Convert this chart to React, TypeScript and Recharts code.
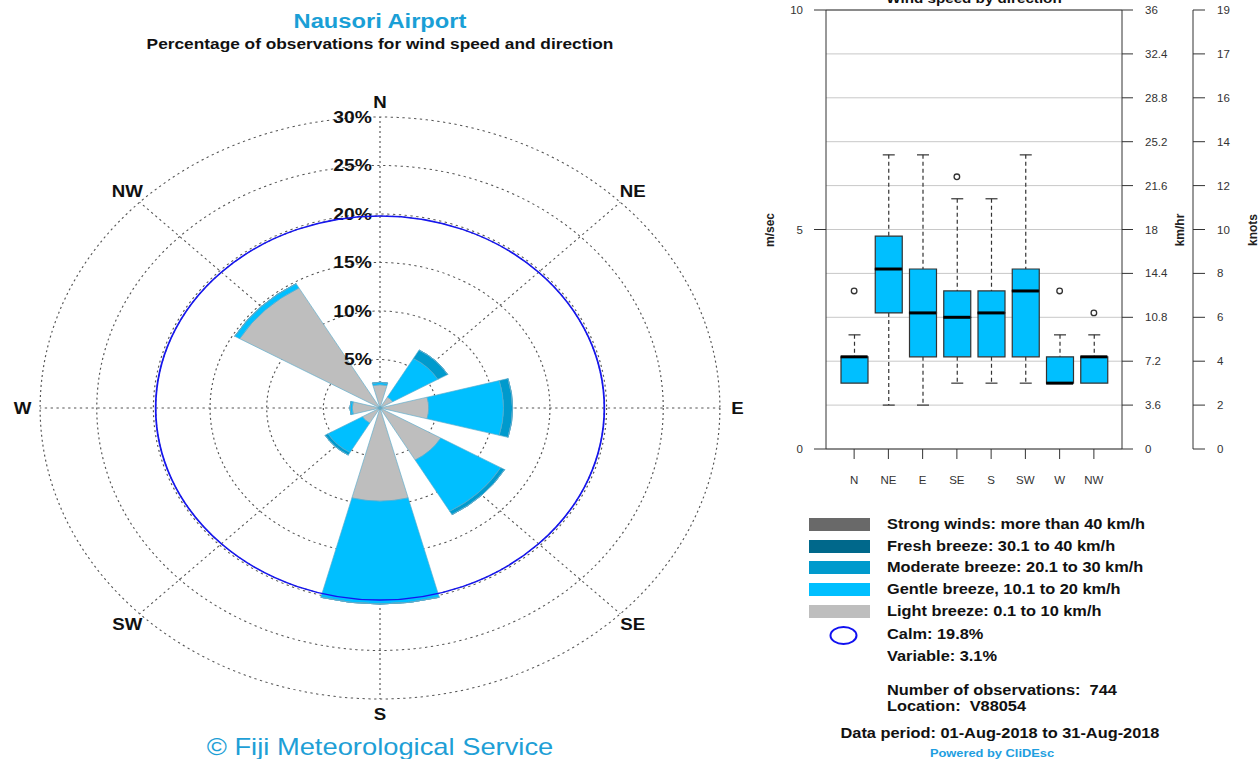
import React from "react";
import {
  RadialBarChart,
  RadialBar,
  PolarGrid,
  PolarAngleAxis,
  PolarRadiusAxis,
  ComposedChart,
  Bar,
  Line,
  Scatter,
  XAxis,
  YAxis,
  CartesianGrid,
  ReferenceLine,
} from "recharts";

const FONT = '"Liberation Sans", Arial, Helvetica, sans-serif';

// wind rose (percent of observations)
const directions = ["N", "NE", "E", "SE", "S", "SW", "W", "NW"];
const dirAngles = [0, 45, 90, 135, 180, 225, 270, 315];
const lightBreeze = [2.4, 1.3, 4.3, 6.2, 9.6, 1.8, 2.45, 14.3];
const gentleBreeze = [0.25, 4.6, 6.6, 6.1, 10.6, 3.5, 0.2, 0.5];
const moderateBreeze = [0, 1.0, 0.8, 0.4, 0, 0.3, 0, 0];
const freshBreeze = [0, 0, 0, 0, 0, 0, 0, 0];
const strongWinds = [0, 0, 0, 0, 0, 0, 0, 0];
const calmPct = 19.8;
const variablePct = 3.1;
const pctTicks = [0, 5, 10, 15, 20, 25, 30];

// wind speed by direction (m/s)
const boxMin = [1.5, 1.0, 1.0, 1.5, 1.5, 1.5, 1.5, 1.5];
const boxQ1 = [1.5, 3.1, 2.1, 2.1, 2.1, 2.1, 1.5, 1.5];
const boxMedian = [2.1, 4.1, 3.1, 3.0, 3.1, 3.6, 1.5, 2.1];
const boxQ3 = [2.1, 4.85, 4.1, 3.6, 3.6, 4.1, 2.1, 2.1];
const boxMax = [2.6, 6.7, 6.7, 5.7, 5.7, 6.7, 2.6, 2.6];
const outliers: (number | null)[] = [3.6, null, null, 6.2, null, null, 3.6, 3.1];
const msTicks = [0, 5, 10];
const speedTicks = [0, 1, 2, 3, 4, 5, 6, 7, 8, 9, 10];

const speedClasses = [
  { key: "strong", label: "Strong winds: more than 40 km/h", color: "#696969", values: strongWinds },
  { key: "fresh", label: "Fresh breeze: 30.1 to 40 km/h", color: "#00688b", values: freshBreeze },
  { key: "moderate", label: "Moderate breeze: 20.1 to 30 km/h", color: "#009acd", values: moderateBreeze },
  { key: "gentle", label: "Gentle breeze, 10.1 to 20 km/h", color: "#00bfff", values: gentleBreeze },
  { key: "light", label: "Light breeze: 0.1 to 10 km/h", color: "#bebebe", values: lightBreeze },
];

const roseData = directions.map((dir, i) => {
  const row: Record<string, string | number> = { dir, angle: dirAngles[i] };
  speedClasses.forEach((c) => (row[c.key] = c.values[i]));
  return row;
});

const boxData = directions.map((dir, i) => ({
  dir,
  base: boxMin[i],
  wLow: boxQ1[i] - boxMin[i],
  boxLow: boxMedian[i] - boxQ1[i],
  boxHigh: boxQ3[i] - boxMedian[i],
  wHigh: boxMax[i] - boxQ3[i],
  median: boxMedian[i],
  outlier: outliers[i],
}));

// the original picture is stretched sideways, the rose is an ellipse
const SX = 1.168;
const ROSE = 660;
const RC = ROSE / 2;

const DirTick = (props: any) => {
  const { x, y, payload } = props;
  const dx = x - RC;
  const dy = y - RC;
  const len = Math.hypot(dx, dy) || 1;
  const px = RC + (dx / len) * 306;
  const py = RC + (dy / len) * 306;
  return (
    <text x={px} y={py} textAnchor="middle" dominantBaseline="central" fontFamily={FONT} fontWeight="bold" fontSize={16} fill="#111">
      {directions[dirAngles.indexOf(payload.value)]}
    </text>
  );
};

const PctTick = (props: any) => {
  const { x, y, payload } = props;
  if (payload.value === 0) return <g />;
  if (payload.value === calmPct) {
    // calm ring, radius taken from the axis position of the calm value
    return <circle cx={x} cy={RC} r={RC - y} fill="none" stroke="#1515ee" strokeWidth={1.5} />;
  }
  return (
    <text x={x - 7} y={y} textAnchor="end" dominantBaseline="central" fontFamily={FONT} fontWeight="bold" fontSize={16.5} fill="#111">
      {payload.value}%
    </text>
  );
};

const WhiskerLow = (p: any) => {
  const { x, y, width, height } = p;
  if (!(height > 0.5)) return <g />;
  const cx = x + width / 2;
  return (
    <g>
      <line x1={cx} x2={cx} y1={y} y2={y + height} stroke="#333" strokeWidth={1.2} strokeDasharray="4 3" />
      <line x1={cx - 6} x2={cx + 6} y1={y + height} y2={y + height} stroke="#333" strokeWidth={1.2} />
    </g>
  );
};

const WhiskerHigh = (p: any) => {
  const { x, y, width, height } = p;
  if (!(height > 0.5)) return <g />;
  const cx = x + width / 2;
  return (
    <g>
      <line x1={cx} x2={cx} y1={y} y2={y + height} stroke="#333" strokeWidth={1.2} strokeDasharray="4 3" />
      <line x1={cx - 6} x2={cx + 6} y1={y} y2={y} stroke="#333" strokeWidth={1.2} />
    </g>
  );
};

const MedianMark = (p: any) => (
  <line x1={p.cx - 13.5} x2={p.cx + 13.5} y1={p.cy} y2={p.cy} stroke="#000" strokeWidth={3} />
);

const OutlierMark = (p: any) => {
  if (p.payload?.outlier == null || !Number.isFinite(p.cy)) return <g />;
  return <circle cx={p.cx} cy={p.cy} r={2.8} fill="#fff" stroke="#333" strokeWidth={1.3} />;
};

const kmh = (v: number) => {
  const s = (v * 3.6).toFixed(1);
  return s.endsWith(".0") ? s.slice(0, -2) : s;
};
const knots = (v: number) => String(Math.round(v * 1.9438));

const axisTick = { fontSize: 11.5, fill: "#333", fontFamily: FONT };

const RotLabel = ({ x, y, text }: { x: number; y: number; text: string }) => (
  <div
    style={{
      position: "absolute",
      left: x,
      top: y,
      transform: "translate(-50%,-50%) rotate(-90deg)",
      fontFamily: FONT,
      fontWeight: "bold",
      fontSize: 12,
      color: "#222",
      whiteSpace: "nowrap",
    }}
  >
    {text}
  </div>
);

const legendText: React.CSSProperties = {
  position: "absolute",
  left: 887,
  fontFamily: FONT,
  fontWeight: "bold",
  fontSize: 14,
  color: "#111",
  whiteSpace: "pre",
  lineHeight: "16px",
  transform: `scaleX(${SX})`,
  transformOrigin: "0 0",
};

const centered = (left: number, width: number): React.CSSProperties => ({
  position: "absolute",
  left,
  width,
  textAlign: "center",
  fontFamily: FONT,
  whiteSpace: "pre",
  transform: `scaleX(${SX})`,
  transformOrigin: "50% 0",
});

export default function App() {
  return (
    <div style={{ position: "absolute", left: 0, top: 0, width: 1259, height: 759, overflow: "hidden", background: "#fff" }}>
      {/* titles */}
      <div style={{ ...centered(80, 600), top: 9, fontWeight: "bold", fontSize: 20.3, lineHeight: "24px", color: "#1a9fd6" }}>
        Nausori Airport
      </div>
      <div style={{ ...centered(80, 600), top: 35, fontWeight: "bold", fontSize: 14.8, lineHeight: "18px", color: "#111" }}>
        Percentage of observations for wind speed and direction
      </div>

      {/* wind rose */}
      <div
        style={{
          position: "absolute",
          left: 380 - RC,
          top: 408 - RC,
          width: ROSE,
          height: ROSE,
          transform: `scaleX(${SX})`,
          transformOrigin: `${RC}px ${RC}px`,
        }}
      >
        <RadialBarChart
          width={ROSE}
          height={ROSE}
          data={roseData}
          layout="centric"
          cx="50%"
          cy="50%"
          innerRadius={0}
          outerRadius={291}
          startAngle={90}
          endAngle={-270}
          barCategoryGap="16.7%"
          margin={{ top: 0, right: 0, bottom: 0, left: 0 }}
        >
          <PolarGrid gridType="circle" stroke="#555" strokeDasharray="2 3" />
          <PolarAngleAxis dataKey="angle" type="number" domain={[0, 360]} ticks={dirAngles} axisLine={false} tickLine={false} tick={<DirTick />} />
          <PolarRadiusAxis
            type="number"
            angle={90}
            domain={[0, 30]}
            ticks={[...pctTicks, calmPct]}
            axisLine={false}
            tickLine={false}
            tick={<PctTick />}
          />
          {[...speedClasses].reverse().map((c) => (
            <RadialBar
              key={c.key}
              dataKey={c.key}
              stackId="rose"
              fill={c.color}
              stroke="#5aaccc"
              strokeWidth={0.6}
              isAnimationActive={false}
            />
          ))}
        </RadialBarChart>
      </div>

      <div style={{ ...centered(80, 600), top: 734, fontSize: 23.4, lineHeight: "26px", color: "#1e9fd6" }}>
        © Fiji Meteorological Service
      </div>

      {/* box plot */}
      <div style={{ ...centered(826, 296), top: -8, fontWeight: "bold", fontSize: 13, lineHeight: "14px", color: "#111" }}>
        Wind speed by direction
      </div>
      <div style={{ position: "absolute", left: 760, top: 0 }}>
        <ComposedChart width={499} height={489} data={boxData} margin={{ top: 10, right: 0, bottom: 0, left: 0 }} barSize={27}>
          <CartesianGrid yAxisId="kmh" vertical={false} stroke="#c8c8c8" />
          <XAxis
            dataKey="dir"
            interval={0}
            padding={{ left: 11, right: 11 }}
            height={40}
            tickSize={10}
            tickMargin={17}
            stroke="#333"
            tick={axisTick}
          />
          <YAxis yAxisId="ms" domain={[0, 10]} ticks={msTicks} width={66} tickSize={12} tickMargin={11} stroke="#333" tick={axisTick} />
          <YAxis yAxisId="kmh" orientation="right" domain={[0, 10]} ticks={speedTicks} width={71} tickSize={11} tickMargin={12} stroke="#333" tick={axisTick} tickFormatter={kmh} />
          <YAxis yAxisId="kt" orientation="right" domain={[0, 10]} ticks={speedTicks} width={66} tickSize={12} tickMargin={12} stroke="#333" tick={axisTick} tickFormatter={knots} />
          <ReferenceLine yAxisId="ms" y={10} stroke="#333" />
          {/* the same medians on the speed axes, invisible, so these axes get their scale */}
          <Line yAxisId="kmh" dataKey="median" stroke="none" dot={false} activeDot={false} legendType="none" isAnimationActive={false} />
          <Line yAxisId="kt" dataKey="median" stroke="none" dot={false} activeDot={false} legendType="none" isAnimationActive={false} />
          <Bar yAxisId="ms" dataKey="base" stackId="box" fill="none" isAnimationActive={false} />
          <Bar yAxisId="ms" dataKey="wLow" stackId="box" shape={<WhiskerLow />} isAnimationActive={false} />
          <Bar yAxisId="ms" dataKey="boxLow" stackId="box" fill="#00bfff" stroke="#333" strokeWidth={1.2} isAnimationActive={false} />
          <Bar yAxisId="ms" dataKey="boxHigh" stackId="box" fill="#00bfff" stroke="#333" strokeWidth={1.2} isAnimationActive={false} />
          <Bar yAxisId="ms" dataKey="wHigh" stackId="box" shape={<WhiskerHigh />} isAnimationActive={false} />
          <Scatter yAxisId="ms" dataKey="median" shape={<MedianMark />} isAnimationActive={false} />
          <Scatter yAxisId="ms" dataKey="outlier" shape={<OutlierMark />} isAnimationActive={false} />
        </ComposedChart>
      </div>
      <RotLabel x={770} y={230} text="m/sec" />
      <RotLabel x={1180} y={230} text="km/hr" />
      <RotLabel x={1253} y={230} text="knots" />

      {/* legend */}
      {speedClasses.map((c, i) => (
        <React.Fragment key={c.key}>
          <div style={{ position: "absolute", left: 809, top: 518 + i * 21.7, width: 61, height: 13, background: c.color }} />
          <div style={{ ...legendText, top: 516 + i * 21.7 }}>{c.label}</div>
        </React.Fragment>
      ))}
      <svg style={{ position: "absolute", left: 828, top: 625 }} width={32} height={22}>
        <ellipse cx={15.5} cy={10.5} rx={13} ry={8.5} fill="none" stroke="#1010f0" strokeWidth={2} />
      </svg>
      <div style={{ ...legendText, top: 626 }}>{`Calm: ${calmPct}%`}</div>
      <div style={{ ...legendText, top: 648 }}>{`Variable: ${variablePct}%`}</div>
      <div style={{ ...legendText, top: 682 }}>{`Number of observations:  744`}</div>
      <div style={{ ...legendText, top: 698 }}>{`Location:  V88054`}</div>
      <div style={{ ...centered(780, 440), top: 725, fontWeight: "bold", fontSize: 14, lineHeight: "16px", color: "#111" }}>
        Data period: 01-Aug-2018 to 31-Aug-2018
      </div>
      <div style={{ ...centered(880, 224), top: 746, fontWeight: "bold", fontSize: 11, lineHeight: "14px", color: "#1e9ee0" }}>
        Powered by CliDEsc
      </div>
    </div>
  );
}
